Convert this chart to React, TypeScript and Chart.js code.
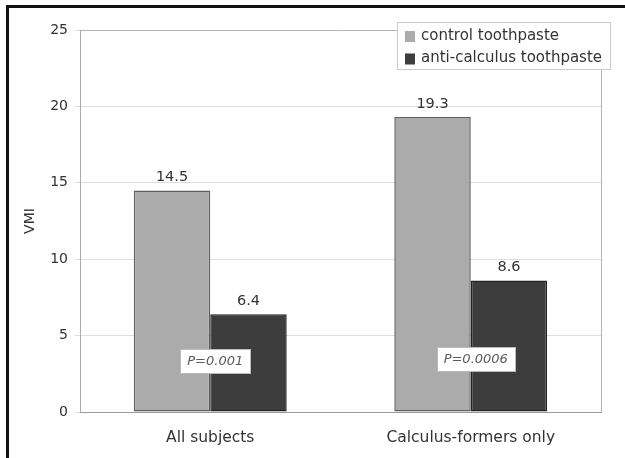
import React, { useEffect, useRef } from 'react';
import { Chart, registerables } from 'chart.js';

Chart.register(...registerables);

const categories = ['All subjects', 'Calculus-formers only'];
const seriesNames = ['control toothpaste', 'anti-calculus toothpaste'];
const controlValues = [14.5, 19.3];
const antiCalculusValues = [6.4, 8.6];
const pValueLabels = ['P=0.001', 'P=0.0006'];
const pValueY = [3.35, 3.5];
const yAxisTitle = 'VMI';
const yMin = 0;
const yMax = 25;
const yStep = 5;

const FONT = '"DejaVu Sans", "Liberation Sans", Arial, sans-serif';
const TEXT = '#333333';
const fills = ['#ababab', '#3d3d3d'];
const borders = ['#5e5e5e', '#222222'];

const overlay = {
  id: 'overlay',
  beforeDatasetsDraw(chart: any) {
    const { ctx, chartArea: a } = chart;
    ctx.save();
    ctx.strokeStyle = '#b3b3b3';
    ctx.lineWidth = 1;
    ctx.beginPath();
    ctx.moveTo(a.left, Math.round(a.top) + 0.5);
    ctx.lineTo(Math.round(a.right) + 0.5, Math.round(a.top) + 0.5);
    ctx.lineTo(Math.round(a.right) + 0.5, a.bottom);
    ctx.stroke();
    ctx.restore();
  },
  afterDatasetsDraw(chart: any) {
    const { ctx } = chart;
    ctx.save();
    ctx.fillStyle = TEXT;
    ctx.font = `14.5px ${FONT}`;
    ctx.textAlign = 'center';
    ctx.textBaseline = 'bottom';
    chart.data.datasets.forEach((ds: any, i: number) => {
      const meta = chart.getDatasetMeta(i);
      meta.data.forEach((bar: any, j: number) => {
        ctx.fillText(String(ds.data[j]), bar.x, bar.y - 6);
      });
    });
    const xs = chart.scales.x;
    const ys = chart.scales.y;
    pValueLabels.forEach((t, j) => {
      const cx = xs.getPixelForValue(j) + 5;
      const cy = ys.getPixelForValue(pValueY[j]);
      ctx.font = `italic 13px ${FONT}`;
      const w = Math.round(ctx.measureText(t).width + 14);
      const h = 24;
      const x0 = Math.round(cx - w / 2) + 0.5;
      const y0 = Math.round(cy - h / 2) + 0.5;
      ctx.fillStyle = '#ffffff';
      ctx.fillRect(x0, y0, w, h);
      ctx.strokeStyle = '#bbbbbb';
      ctx.lineWidth = 1;
      ctx.strokeRect(x0, y0, w, h);
      ctx.fillStyle = '#5a5a5a';
      ctx.textBaseline = 'middle';
      ctx.fillText(t, cx, cy + 1);
    });
    ctx.restore();
  },
  afterDraw(chart: any) {
    const { ctx, chartArea: a } = chart;
    ctx.save();
    // legend
    const lx = 397.5, ly = 22.5, lw = 213, lh = 47;
    ctx.fillStyle = '#ffffff';
    ctx.fillRect(lx, ly, lw, lh);
    ctx.strokeStyle = '#cccccc';
    ctx.lineWidth = 1;
    ctx.strokeRect(lx, ly, lw, lh);
    ctx.font = `15px ${FONT}`;
    ctx.textAlign = 'left';
    ctx.textBaseline = 'middle';
    seriesNames.forEach((name, i) => {
      const rowY = 36 + i * 22.5;
      ctx.fillStyle = fills[i];
      ctx.fillRect(405, rowY - 5, 10, 11);
      ctx.fillStyle = TEXT;
      ctx.fillText(name, 421, rowY);
    });
    // y axis title
    ctx.save();
    ctx.translate(30, (a.top + a.bottom) / 2);
    ctx.rotate(-Math.PI / 2);
    ctx.textAlign = 'center';
    ctx.textBaseline = 'middle';
    ctx.font = `14px ${FONT}`;
    ctx.fillStyle = TEXT;
    ctx.fillText(yAxisTitle, 0, 0);
    ctx.restore();
    // outer frame (left and top)
    ctx.fillStyle = '#111111';
    ctx.fillRect(6, 5, 3, chart.height - 5);
    ctx.fillRect(6, 5, chart.width - 6, 3);
    ctx.restore();
  },
};

export default function App() {
  const ref = useRef<HTMLCanvasElement | null>(null);
  useEffect(() => {
    if (!ref.current) return;
    const chart = new Chart(ref.current, {
      type: 'bar',
      data: {
        labels: categories,
        datasets: [
          {
            label: seriesNames[0],
            data: controlValues,
            backgroundColor: fills[0],
            borderColor: borders[0],
            borderWidth: 1.5,
            borderSkipped: false,
            categoryPercentage: 0.587,
            barPercentage: 1,
          },
          {
            label: seriesNames[1],
            data: antiCalculusValues,
            backgroundColor: fills[1],
            borderColor: borders[1],
            borderWidth: 1.5,
            borderSkipped: false,
            categoryPercentage: 0.587,
            barPercentage: 1,
          },
        ],
      },
      options: {
        responsive: false,
        animation: false,
        layout: { padding: { left: 0, right: 24, top: 30, bottom: 0 } },
        plugins: { legend: { display: false }, tooltip: { enabled: false } },
        scales: {
          x: {
            grid: { display: false, drawTicks: false },
            border: { color: '#999999', width: 1 },
            ticks: { font: { family: FONT, size: 15.5 }, color: TEXT, padding: 17 },
            afterFit(s: any) {
              s.height = 46;
            },
          },
          y: {
            min: yMin,
            max: yMax,
            ticks: { stepSize: yStep, font: { family: FONT, size: 14 }, color: TEXT, padding: 7 },
            grid: { color: '#dddddd', tickLength: 5 },
            border: { color: '#aaaaaa', width: 1 },
            afterFit(s: any) {
              s.width = 80;
            },
          },
        },
      },
      plugins: [overlay],
    });
    return () => chart.destroy();
  }, []);
  return (
    <div style={{ position: 'fixed', left: 0, top: 0, width: 625, height: 458, background: '#fff' }}>
      <canvas ref={ref} width={625} height={458} style={{ display: 'block' }} />
    </div>
  );
}
